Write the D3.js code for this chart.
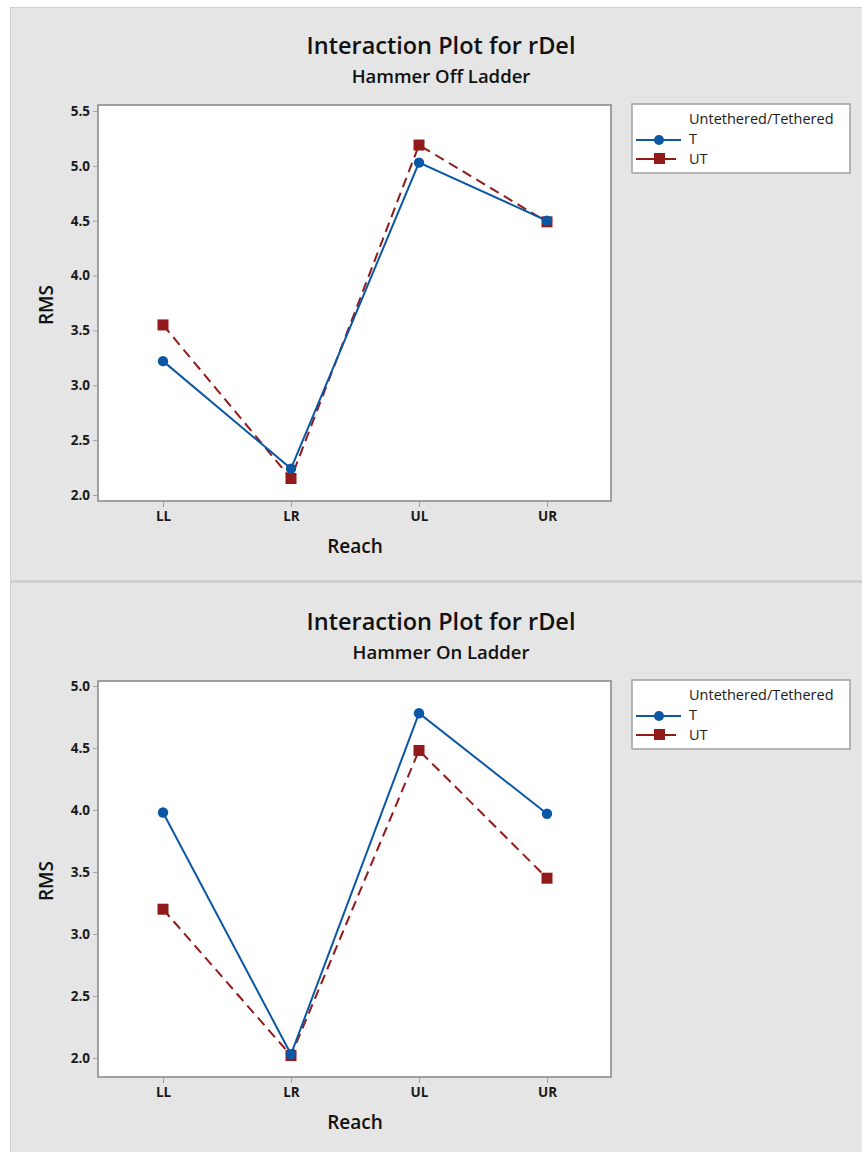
<!DOCTYPE html>
<html><head><meta charset="utf-8">
<script src="https://cdn.jsdelivr.net/npm/d3@7"></script>
<style>
html,body{margin:0;padding:0;background:#fff;}
svg{display:block;}
text{font-family:"Open Sans","Noto Sans",sans-serif;}
</style></head>
<body>
<script>
const categories = ["LL","LR","UL","UR"];
const seriesNames = ["T","UT"];
const legendTitle = "Untethered/Tethered";
const offT  = [3.22, 2.24, 5.03, 4.50];
const offUT = [3.55, 2.15, 5.19, 4.49];
const onT   = [3.98, 2.03, 4.78, 3.97];
const onUT  = [3.20, 2.02, 4.48, 3.45];
const offTicks = [2.0, 2.5, 3.0, 3.5, 4.0, 4.5, 5.0, 5.5];
const onTicks  = [2.0, 2.5, 3.0, 3.5, 4.0, 4.5, 5.0];

const W = 862, H = 1152;
const svg = d3.select("body").append("svg").attr("width", W).attr("height", H);
svg.append("rect").attr("x",0).attr("y",0).attr("width",W).attr("height",H).attr("fill","#fff");
svg.append("rect").attr("x",10.5).attr("y",7.5).attr("width",W-10).attr("height",H).attr("fill","#e5e5e5").attr("stroke","#d2d2d2");

const blue = "#0a57a5", red = "#921a1a";

function panel(top, subtitle, T, UT, domain, ticks) {
  const g = svg.append("g").attr("transform", `translate(0,${top})`);
  g.append("text").attr("x",441).attr("y",54).attr("text-anchor","middle").attr("font-size",23.5).attr("font-weight",600).attr("fill","#111").text("Interaction Plot for rDel");
  g.append("text").attr("x",441).attr("y",83).attr("text-anchor","middle").attr("font-size",18.5).attr("font-weight",600).attr("fill","#111").text(subtitle);

  const fx0 = 98, fx1 = 611, fy0 = 105, fy1 = 501;
  const x = d3.scalePoint().domain(categories).range([163, 547]);
  const y = d3.scaleLinear().domain(domain).range([fy1, fy0]);

  g.append("rect").attr("x",fx0).attr("y",fy0).attr("width",fx1-fx0).attr("height",fy1-fy0).attr("fill","#fff").attr("stroke","#a0a0a0").attr("stroke-width",2);

  const ya = g.append("g").attr("transform",`translate(${fx0-1},0)`)
    .call(d3.axisLeft(y).tickValues(ticks).tickFormat(d3.format(".1f")).tickSize(4).tickPadding(3));
  ya.select(".domain").remove();
  ya.selectAll("line").attr("stroke","#a0a0a0");
  ya.selectAll("text").attr("font-size",13.5).attr("font-weight","bold").attr("fill","#1a1a1a");

  const xa = g.append("g").attr("transform",`translate(0,${fy1+1})`)
    .call(d3.axisBottom(x).tickSize(5).tickPadding(4));
  xa.select(".domain").remove();
  xa.selectAll("line").attr("stroke","#a0a0a0");
  xa.selectAll("text").attr("font-size",13.5).attr("font-weight","bold").attr("fill","#1a1a1a");

  g.append("text").attr("x",355).attr("y",553).attr("text-anchor","middle").attr("font-size",19).attr("font-weight",600).attr("fill","#111").text("Reach");
  g.append("text").attr("transform",`translate(53,${(fy0+fy1)/2+2}) rotate(-90)`).attr("text-anchor","middle").attr("font-size",19).attr("font-weight",600).attr("fill","#111").text("RMS");

  const line = d3.line().x((d,i)=>x(categories[i])).y(d=>y(d));
  g.append("path").datum(UT).attr("d",line).attr("fill","none").attr("stroke",red).attr("stroke-width",2).attr("stroke-dasharray","10,6");
  g.append("path").datum(T).attr("d",line).attr("fill","none").attr("stroke",blue).attr("stroke-width",2);
  g.selectAll(".ut").data(UT).enter().append("rect")
    .attr("x",(d,i)=>x(categories[i])-5.5).attr("y",d=>y(d)-5.5).attr("width",11).attr("height",11).attr("fill",red);
  g.selectAll(".t").data(T).enter().append("circle")
    .attr("cx",(d,i)=>x(categories[i])).attr("cy",d=>y(d)).attr("r",5.2).attr("fill",blue);

  // legend
  const lg = g.append("g");
  lg.append("rect").attr("x",632).attr("y",104).attr("width",218).attr("height",69).attr("fill","#fff").attr("stroke","#a0a0a0").attr("stroke-width",1.5);
  lg.append("text").attr("x",689).attr("y",124).attr("font-size",14.5).attr("fill","#1a1a1a").text(legendTitle);
  lg.append("line").attr("x1",636).attr("x2",681).attr("y1",140).attr("y2",140).attr("stroke",blue).attr("stroke-width",2);
  lg.append("circle").attr("cx",659).attr("cy",140).attr("r",5).attr("fill",blue);
  lg.append("text").attr("x",689).attr("y",144).attr("font-size",14.5).attr("fill","#1a1a1a").text(seriesNames[0]);
  lg.append("line").attr("x1",636).attr("x2",676).attr("y1",159).attr("y2",159).attr("stroke",red).attr("stroke-width",2);
  lg.append("rect").attr("x",654).attr("y",153).attr("width",11).attr("height",11).attr("fill",red);
  lg.append("text").attr("x",689).attr("y",164).attr("font-size",14.5).attr("fill","#1a1a1a").text(seriesNames[1]);
}

panel(0, "Hammer Off Ladder", offT, offUT, [1.945, 5.555], offTicks);
svg.append("rect").attr("x",10).attr("y",580).attr("width",W-10).attr("height",3).attr("fill","#cfcfcf");
panel(576, "Hammer On Ladder", onT, onUT, [1.847, 5.04], onTicks);
</script>
</body></html>
